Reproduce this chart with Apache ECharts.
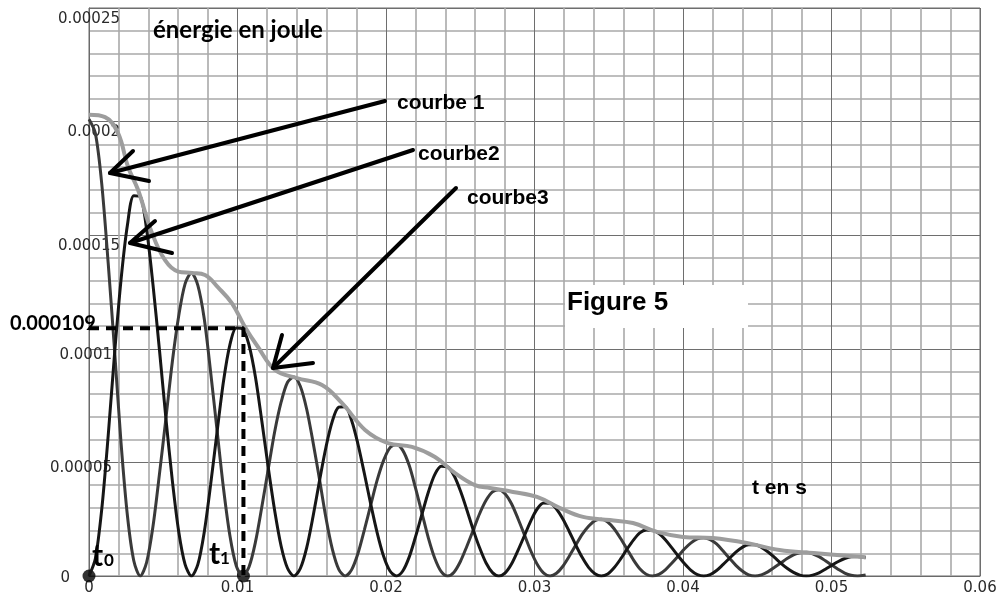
<!DOCTYPE html>
<html>
<head>
<meta charset="utf-8">
<script src="https://cdn.jsdelivr.net/npm/echarts@6/dist/echarts.min.js"></script>
<style>
  html, body { margin: 0; padding: 0; background: #fff; }
  #chart { width: 1003px; height: 600px; }
</style>
</head>
<body>
<div id="chart"></div>
<script>
// tick labels as printed on the figure
const xTicks = ['0', '0.01', '0.02', '0.03', '0.04', '0.05', '0.06'];
const yTicks = ['0', '0.00005', '0.0001', '0.00015', '0.0002', '0.00025'];

// sample times (s) for the two oscillating curves
const tSample = [
  0, 0.00043, 0.00086, 0.00129, 0.00173, 0.00216, 0.00259, 0.00302,
  0.00345, 0.00388, 0.00431, 0.00474, 0.00518, 0.00561, 0.00604, 0.00647,
  0.0069, 0.00733, 0.00776, 0.00819, 0.00863, 0.00906, 0.00949, 0.00992,
  0.01035, 0.01078, 0.01121, 0.01164, 0.01208, 0.01251, 0.01294, 0.01337,
  0.0138, 0.01423, 0.01466, 0.01509, 0.01553, 0.01596, 0.01639, 0.01682,
  0.01725, 0.01768, 0.01811, 0.01854, 0.01898, 0.01941, 0.01984, 0.02027,
  0.0207, 0.02113, 0.02156, 0.02199, 0.02243, 0.02286, 0.02329, 0.02372,
  0.02415, 0.02458, 0.02501, 0.02544, 0.02588, 0.02631, 0.02674, 0.02717,
  0.0276, 0.02803, 0.02846, 0.02889, 0.02933, 0.02976, 0.03019, 0.03062,
  0.03105, 0.03148, 0.03191, 0.03234, 0.03278, 0.03321, 0.03364, 0.03407,
  0.0345, 0.03493, 0.03536, 0.03579, 0.03623, 0.03666, 0.03709, 0.03752,
  0.03795, 0.03838, 0.03881, 0.03924, 0.03968, 0.04011, 0.04054, 0.04097,
  0.0414, 0.04183, 0.04226, 0.04269, 0.04313, 0.04356, 0.04399, 0.04442,
  0.04485, 0.04528, 0.04571, 0.04614, 0.04658, 0.04701, 0.04744, 0.04787,
  0.0483, 0.04873, 0.04916, 0.04959, 0.05003, 0.05046, 0.05089, 0.05132,
  0.05175, 0.0523
];

// courbe 1 (µJ) : starts at its maximum
const courbe1 = [
  201, 194.8, 172.5, 137.9, 98.5, 58.4, 26.4, 6.6,
  0, 6.0, 21.9, 44.6, 69.4, 94.2, 114.4, 128.6,
  133.4, 127.9, 113.2, 89.8, 63.7, 38.4, 17.7, 4.4,
  0, 4.1, 15.0, 30.5, 47.4, 63.7, 76.6, 85.3,
  87.6, 83.5, 73.4, 58.8, 42.2, 25.4, 11.7, 2.9,
  0, 2.7, 9.9, 20.2, 31.5, 42.3, 50.9, 56.5,
  57.9, 55.3, 48.7, 38.7, 27.5, 16.6, 7.7, 1.9,
  0, 1.7, 6.4, 13.0, 20.3, 27.5, 33.3, 37.0,
  38, 36.1, 31.7, 25.2, 18, 10.9, 5.1, 1.3,
  0, 1.2, 4.3, 8.7, 13.6, 18.3, 21.9, 24.4,
  25, 23.8, 20.8, 16.6, 11.8, 7.1, 3.2, 0.8,
  0, 0.7, 2.7, 5.6, 8.8, 12.0, 14.6, 16.3,
  16.8, 16.0, 14.1, 11.1, 7.8, 4.7, 2.2, 0.5,
  0, 0.5, 1.8, 3.7, 5.7, 7.7, 9.3, 10.2,
  10.4, 9.8, 8.5, 6.7, 4.75, 2.9, 1.3, 0.3,
  0, 0.4
];

// courbe 2 (µJ) : starts at zero
const courbe2 = [
  0, 7.7, 29.5, 61.6, 98.5, 130.6, 154.6, 167.4,
  167, 152.5, 128.1, 99.8, 69.3, 42.1, 19.6, 5.1,
  0, 5.1, 19.3, 40.2, 63.7, 85.8, 101.8, 109.2,
  108.8, 101.5, 87.5, 68.1, 47.3, 28.5, 13.1, 3.4,
  0, 3.3, 12.5, 26.3, 42.2, 56.8, 68.2, 74.3,
  74.5, 68.6, 58.1, 45.2, 31.4, 18.9, 8.7, 2.2,
  0, 2.2, 8.3, 17.3, 27.4, 37.1, 44.7, 48.3,
  48, 44.2, 37.5, 29.2, 20.2, 12.3, 5.7, 1.5,
  0, 1.4, 5.4, 11.3, 17.9, 24.4, 29.6, 32.1,
  32, 29.5, 25.1, 19.6, 13.6, 8.2, 3.8, 1.0,
  0, 0.9, 3.6, 7.4, 11.8, 15.8, 19.0, 20.3,
  20.1, 18.7, 16.0, 12.5, 8.8, 5.4, 2.5, 0.6,
  0, 0.6, 2.4, 5.0, 7.8, 10.5, 12.6, 13.7,
  13.7, 12.6, 10.7, 8.3, 5.7, 3.4, 1.6, 0.4,
  0, 0.4, 1.4, 3.0, 4.75, 6.4, 7.7, 8.5,
  8.6, 8.0
];

// courbe 3 (µJ) : total energy, grey
const grayT = [
  0, 0.00108, 0.00195, 0.00263, 0.0033, 0.00424, 0.00512, 0.006, 0.00694,
  0.00781, 0.00869, 0.00963, 0.0105, 0.01138, 0.01253, 0.014, 0.01569,
  0.01704, 0.01859, 0.02013, 0.02175, 0.0233, 0.02465, 0.02599, 0.027,
  0.02855, 0.03017, 0.03172, 0.03327, 0.03508, 0.03663, 0.03825, 0.04,
  0.042, 0.0443, 0.0465, 0.0488, 0.0523
];
const grayE = [
  203, 202, 195, 180, 170, 151, 139, 134, 133.4,
  132.5, 127, 120, 109.6, 100.8, 90.7, 87.1, 84.1,
  76.1, 64.3, 58.5, 56.8, 52.4, 45.3, 40, 38.7,
  37, 34.8, 29.9, 26, 24.6, 23.3, 19.4, 17.2,
  16.7, 14.5, 11.4, 10.1, 8.3
];

// marked instants t0, t1 and the energy read at t1
const tMarks = [0, 0.0104];
const eT1 = 0.000109;

const uJ = 1e-6;
const zip = (xs, ys) => xs.map((x, i) => [x, ys[i] * uJ]);

const tickFont = { fontFamily: 'DejaVu Sans', fontSize: 15, color: '#2a2a2a' };

const chart = echarts.init(document.getElementById('chart'), null, { renderer: 'canvas' });

function txt(text, x, y, font) {
  return {
    type: 'text', z: 100, silent: true,
    style: { text: text, x: x, y: y, font: font, fill: '#000', align: 'left', verticalAlign: 'middle' }
  };
}
function arrowLine(points) {
  return {
    type: 'polyline', z: 100, silent: true,
    shape: { points: points },
    style: { stroke: '#000', lineWidth: 4, fill: null, lineCap: 'round', lineJoin: 'round' }
  };
}

chart.setOption({
  animation: false,
  backgroundColor: '#fff',
  grid: { left: 89, right: 23, top: 8, bottom: 24, show: true, borderColor: '#6a6a6a', borderWidth: 1 },
  xAxis: {
    type: 'value', min: 0, max: 0.06, interval: 0.01,
    axisLine: { show: true, lineStyle: { color: '#6a6a6a', width: 1 } },
    axisTick: { show: false },
    axisLabel: Object.assign({
      margin: 5, showMinLabel: true, showMaxLabel: true,
      formatter: v => xTicks[Math.round(v / 0.01)]
    }, tickFont),
    splitLine: { show: true, lineStyle: { color: '#6e6e6e', width: 1 } },
    minorSplitLine: { show: true, lineStyle: { color: '#a9a9a9', width: 1.6 } }
  },
  yAxis: {
    type: 'value', min: 0, max: 0.00025, interval: 0.00005,
    axisLine: { show: true, lineStyle: { color: '#6a6a6a', width: 1 } },
    axisTick: { show: false },
    axisLabel: Object.assign({
      margin: -31, showMinLabel: true, showMaxLabel: true,
      formatter: v => {
        const i = Math.round(v / 0.00005);
        const style = i >= 3 ? 'hi' : (i >= 1 ? 'mid' : 'z');
        return '{' + style + '|' + yTicks[i] + '}';
      },
      rich: {
        hi: { fontFamily: 'DejaVu Sans', fontSize: 15, color: '#2a2a2a', padding: [22, 0, 0, 0] },
        mid: { fontFamily: 'DejaVu Sans', fontSize: 15, color: '#2a2a2a', padding: [12, 8, 0, 0] },
        z: { fontFamily: 'DejaVu Sans', fontSize: 15, color: '#2a2a2a', padding: [4, 50, 0, 0] }
      }
    }, tickFont),
    splitLine: { show: true, lineStyle: { color: '#6e6e6e', width: 1 } },
    minorSplitLine: { show: true, lineStyle: { color: '#a9a9a9', width: 1.6 } }
  },
  series: [
    {
      name: 'gap', type: 'line', silent: true, symbol: 'none',
      data: [[tMarks[1], eT1], [tMarks[1], 0]],
      lineStyle: { color: '#fff', width: 8 }, z: 1
    },
    {
      name: 'courbe 1', type: 'line', smooth: 0.3, symbol: 'none',
      data: zip(tSample, courbe1),
      lineStyle: { color: '#3a3a3a', width: 3 }
    },
    {
      name: 'courbe2', type: 'line', smooth: 0.3, symbol: 'none',
      data: zip(tSample, courbe2),
      lineStyle: { color: '#161616', width: 3 }
    },
    {
      name: 'courbe3', type: 'line', smooth: 0.4, symbol: 'none',
      data: zip(grayT, grayE),
      lineStyle: { color: '#9d9d9d', width: 4 }
    },
    {
      name: 'lecture', type: 'line', symbol: 'none',
      data: [[tMarks[0], eT1], [tMarks[1], eT1], [tMarks[1], 0]],
      lineStyle: { color: '#000', width: 4, type: [10, 7] }
    },
    {
      name: 'instants', type: 'scatter', symbolSize: 13,
      data: tMarks.map(t => [t, 0]),
      itemStyle: { color: '#000' }
    }
  ],
  graphic: [
    { type: 'rect', z: 1, silent: true, shape: { x: 565, y: 285, width: 183, height: 43 }, style: { fill: '#fff' } },
    txt('énergie en joule', 153, 30, 'bold 24px Lato'),
    txt('courbe 1', 397, 103, 'bold 21px "Liberation Sans"'),
    txt('courbe2', 418, 154, 'bold 21px "Liberation Sans"'),
    txt('courbe3', 467, 198, 'bold 21px "Liberation Sans"'),
    txt('Figure 5', 567, 303, 'bold 26px "Liberation Sans"'),
    txt('t en s', 752, 488, 'bold 21px "Liberation Sans"'),
    txt('0.000109', 10, 324, 'bold 20px Lato'),
    txt('t', 92, 556, 'bold 30px Lato'),
    txt('0', 104, 561, 'bold 17px Lato'),
    txt('t', 209, 554, 'bold 30px Lato'),
    txt('1', 220, 559, 'bold 17px Lato'),
    arrowLine([[385, 101], [110, 173]]),
    arrowLine([[133, 151], [110, 173], [149, 181]]),
    arrowLine([[413, 150], [130, 243]]),
    arrowLine([[155, 221], [130, 243], [172, 253]]),
    arrowLine([[456, 188], [273, 368]]),
    arrowLine([[282, 335], [273, 368], [313, 363]])
  ]
});
</script>
</body>
</html>
